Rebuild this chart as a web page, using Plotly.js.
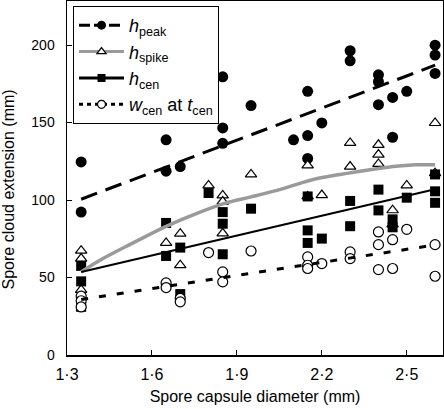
<!DOCTYPE html>
<html>
<head>
<meta charset="utf-8">
<script src="https://cdn.plot.ly/plotly-3.0.1.min.js"></script>
<style>html,body{margin:0;padding:0;background:#fff;}#chart{width:444px;height:409px;}</style>
</head>
<body>
<div id="chart"></div>
<script>
// h_peak (filled circles)
const hpeakX = [1.35,1.35,1.65,1.65,1.7,1.8,1.85,1.85,1.85,1.95,2.1,2.15,2.15,2.15,2.2,2.3,2.3,2.4,2.4,2.4,2.45,2.45,2.5,2.6,2.6,2.6];
const hpeakY = [124.6,92.2,138.8,118.6,121.6,165.8,179.5,146.5,136.6,160.9,138.8,170.1,141.6,126.8,149.7,196.3,189.8,180.8,176.3,161.5,166.2,140.5,170.1,199.9,193.5,181.7];
// h_spike (open triangles)
const hspikeX = [1.35,1.35,1.35,1.65,1.7,1.7,1.8,1.85,1.85,1.85,1.95,2.15,2.15,2.2,2.3,2.3,2.4,2.4,2.4,2.45,2.45,2.5,2.6,2.6];
const hspikeY = [67.3,62.2,42,72.3,78.3,58,109.4,103,99,78.5,116.5,122.3,102.3,103.2,136.8,121.6,135.6,129.3,123.3,93.4,84.3,109.4,149.7,117.3];
// h_cen (filled squares)
const hcenX = [1.35,1.35,1.35,1.65,1.65,1.7,1.7,1.8,1.85,1.85,1.85,1.95,2.15,2.15,2.15,2.2,2.3,2.3,2.4,2.4,2.45,2.45,2.5,2.6,2.6,2.6];
const hcenY = [57.5,47.5,31.1,85.2,63.9,69.3,39.3,104.5,92.2,84.7,65,94.4,102.3,80.4,72.3,75.1,99.4,83.1,106.7,93.3,87.5,82.4,101.5,116.5,105.6,98.2];
// w_cen at t_cen (open circles)
const wcenX = [1.35,1.35,1.35,1.65,1.65,1.7,1.7,1.8,1.85,1.85,1.95,2.15,2.15,2.15,2.2,2.3,2.3,2.4,2.4,2.4,2.45,2.45,2.5,2.6,2.6];
const wcenY = [38,35,31,46.5,43.5,36.5,34.3,66.1,53.6,47.2,67.1,63.3,57.9,55.8,59,66.5,62.2,79.4,71.2,55.1,74.4,55.8,81.1,71.2,50.8];

// fitted lines
const peakFitX = [1.35, 2.6];
const peakFitY = [100.5, 187];
const cenFitX = [1.35, 2.6];
const cenFitY = [53.5, 107];
const wcenFitX = [1.35, 2.6];
const wcenFitY = [35.8, 71];
const spikeFitX = [1.35,1.415,1.53,1.65,1.77,1.86,1.95,2.06,2.18,2.3,2.42,2.53,2.6];
const spikeFitY = [53.6,61,72,83,92.2,98,102,107.2,113.7,117.5,120.8,122.7,122.7];

// axis ticks
const xTickVals = [1.3, 1.6, 1.9, 2.2, 2.5];
const xTickText = ['1·3', '1·6', '1·9', '2·2', '2·5'];
const yTickVals = [0, 50, 100, 150, 200];

// legend labels
const names = ['<i>h</i><sub>peak</sub>', '<i>h</i><sub>spike</sub>', '<i>h</i><sub>cen</sub>', '<i>w</i><sub>cen</sub> at <i>t</i><sub>cen</sub>'];

const K = '#000';
const GRAY = '#9a9a9a';

const traces = [
  {x: hpeakX, y: hpeakY, mode: 'markers', showlegend: false, marker: {symbol: 'circle', size: 11, color: K}},
  {x: hspikeX, y: hspikeY, mode: 'markers', showlegend: false, marker: {symbol: 'triangle-up', size: 10, color: '#fff', line: {color: K, width: 1.2}}},
  {x: hcenX, y: hcenY, mode: 'markers', showlegend: false, marker: {symbol: 'square', size: 10, color: K}},
  {x: wcenX, y: wcenY, mode: 'markers', showlegend: false, marker: {symbol: 'circle', size: 10, color: '#fff', line: {color: K, width: 1.2}}},
  {x: peakFitX, y: peakFitY, mode: 'lines', showlegend: false, line: {color: K, width: 3, dash: '17px,9px'}},
  {x: spikeFitX, y: spikeFitY, mode: 'lines', showlegend: false, line: {color: GRAY, width: 3.5, shape: 'spline'}},
  {x: cenFitX, y: cenFitY, mode: 'lines', showlegend: false, line: {color: K, width: 2}},
  {x: wcenFitX, y: wcenFitY, mode: 'lines', showlegend: false, line: {color: K, width: 3, dash: '7px,11px'}},
  // legend entries
  {x: [null], y: [null], name: names[0], mode: 'lines+markers', line: {color: K, width: 3, dash: '11px,4px'}, marker: {symbol: 'circle', size: 9, color: K}},
  {x: [null], y: [null], name: names[1], mode: 'lines+markers', line: {color: GRAY, width: 3}, marker: {symbol: 'triangle-up', size: 8, color: '#fff', line: {color: K, width: 1.2}}},
  {x: [null], y: [null], name: names[2], mode: 'lines+markers', line: {color: K, width: 3}, marker: {symbol: 'square', size: 8, color: K}},
  {x: [null], y: [null], name: names[3], mode: 'lines+markers', line: {color: K, width: 3, dash: '4px,4px'}, marker: {symbol: 'circle', size: 8, color: '#fff', line: {color: K, width: 1.2}}}
];

const layout = {
  width: 444, height: 409,
  margin: {l: 67, r: 1, t: 1, b: 54},
  paper_bgcolor: '#fff', plot_bgcolor: '#fff',
  font: {family: '"Liberation Sans", Arial, sans-serif', size: 14, color: K},
  showlegend: true,
  legend: {
    x: 0.016, y: 0.986, xanchor: 'left', yanchor: 'top',
    bordercolor: K, borderwidth: 1, bgcolor: '#fff',
    font: {size: 18, color: K},
    itemwidth: 45,
    tracegroupgap: 0
  },
  xaxis: {
    range: [1.3, 2.628],
    tickvals: xTickVals, ticktext: xTickText,
    ticks: 'inside', ticklen: 5, tickwidth: 1, tickcolor: K,
    showline: true, linecolor: K, linewidth: 1.5, mirror: true,
    showgrid: false, zeroline: false,
    tickfont: {size: 16},
    ticklabelstandoff: 4,
    title: {text: 'Spore capsule diameter (mm)', font: {size: 16}, standoff: 9}
  },
  yaxis: {
    range: [0, 228.4],
    tickvals: yTickVals,
    ticks: 'inside', ticklen: 5, tickwidth: 1, tickcolor: K,
    showline: true, linecolor: K, linewidth: 1.5, mirror: true,
    showgrid: false, zeroline: false,
    tickfont: {size: 14},
    ticklabelstandoff: 8,
    title: {text: ''}
  },
  annotations: [{
    text: 'Spore cloud extension (mm)', textangle: -90,
    xref: 'paper', yref: 'paper', x: -0.153, y: 0.469,
    xanchor: 'center', yanchor: 'middle', showarrow: false,
    font: {size: 16, color: K}
  }]
};

Plotly.newPlot('chart', traces, layout, {displayModeBar: false, staticPlot: true});
</script>
</body>
</html>
